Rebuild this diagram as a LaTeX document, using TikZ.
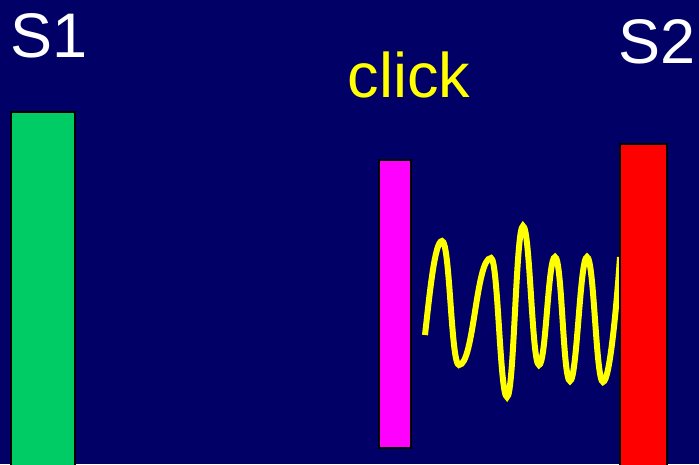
\documentclass[tikz,border=0pt]{standalone}
\usepackage{fontspec}
\setmainfont{Liberation Sans}
\definecolor{bgnavy}{RGB}{0,0,102}
\definecolor{barGreen}{RGB}{0,204,102}
\definecolor{barMagenta}{RGB}{255,0,255}
\definecolor{barRed}{RGB}{255,0,0}
\definecolor{waveYellow}{RGB}{255,255,0}
\begin{document}
\begin{tikzpicture}[x=1pt,y=-1pt,
  bar/.style={draw=black,line width=1.6pt},
  lbl/.style={anchor=base,inner sep=0pt,font=\fontsize{63}{63}\selectfont},
  wave/.style={draw=waveYellow,line width=6pt}]
\useasboundingbox (0,0) rectangle (699,464);
\fill[bgnavy] (0,0) rectangle (699,464);
% labels
\node[lbl,text=white] (s1) at (49,57) {S1};
\node[lbl,text=white] (s2) at (657,63) {S2};
\node[lbl,text=waveYellow] (click) at (409,97) {click};
% bars
\path[bar,fill=barGreen] (11,112) rectangle (75,466);
\path[bar,fill=barMagenta] (379,160) rectangle (411,448);
% wave
\draw[wave] (425,335) .. controls (430,290) and (435,241) .. (442,241)
  .. controls (450,241) and (451,365) .. (459,365)
  .. controls (474,365) and (476,258) .. (491,258)
  .. controls (498,258) and (500,397) .. (507,397)
  .. controls (514,397) and (516,226) .. (523,226)
  .. controls (530,226) and (532,365) .. (539,365)
  .. controls (546,365) and (548,257) .. (555,257)
  .. controls (562,257) and (563,381) .. (570,381)
  .. controls (577,381) and (580,257) .. (587,257)
  .. controls (594,257) and (596,382) .. (603,382)
  .. controls (610,382) and (617,300) .. (620,257);
\path[bar,fill=barRed] (620,144) rectangle (667,466);
\end{tikzpicture}
\end{document}
